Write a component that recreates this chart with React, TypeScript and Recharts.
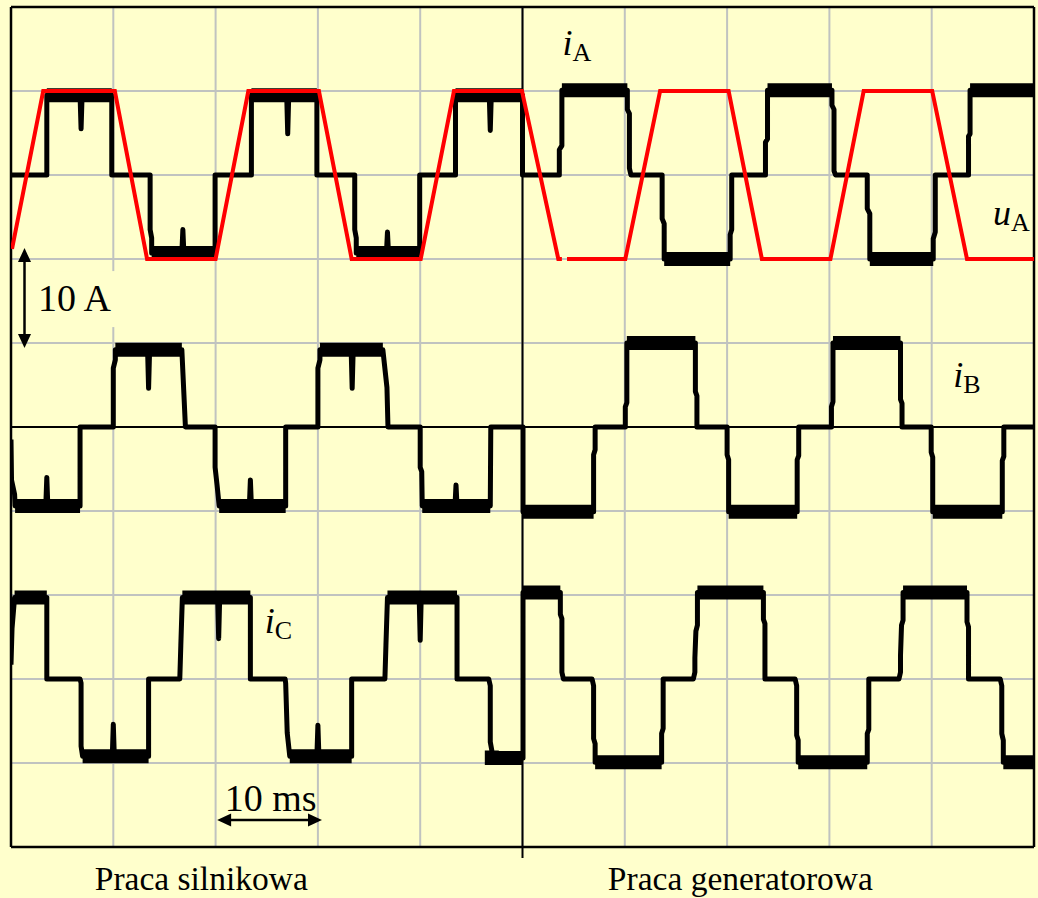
import React from 'react';
import { LineChart, Line, XAxis, YAxis, CartesianGrid, ReferenceLine, ReferenceDot } from 'recharts';

type P = [number, number | null];

// time axis in ms (10 ms / div), vertical in A (10 A / div)
const xTicks = [0, 10, 20, 30, 40, 50, 60, 70, 80, 90, 100];
const yTicks = [-50, -40, -30, -20, -10, 0, 10, 20, 30, 40, 50];

const offsetA = 30;
const offsetB = 0;
const offsetC = -30;

const iA: P[] = [
  [0, 0], [3.5, 0], [3.5, 9.5], [6.75, 9.5], [6.85, 5.5], [6.95, 9.5], [9.85, 9.5], [9.85, 0],
  [13.6, 0], [13.6, -6.5], [13.75, -7.5], [13.75, -9.3], [16.7, -9.3], [16.8, -6.5], [16.9, -9.3], [19.95, -9.3], [19.95, 0],
  [23.5, 0], [23.5, 9.5], [26.95, 9.5], [27.05, 4.9], [27.15, 9.5], [29.9, 9.5], [29.9, 0],
  [33.6, 0], [33.6, -6.5], [33.75, -7.5], [33.75, -9.3], [36.7, -9.3], [36.8, -6.8], [36.9, -9.3], [39.95, -9.3], [39.95, 0],
  [43.45, 0], [43.45, 9.5], [46.75, 9.5], [46.85, 5.3], [46.95, 9.5], [50.0, 9.5], [50.0, 0],
  [53.6, 0], [53.6, 3.0], [53.85, 3.5], [53.85, 10.1], [60.25, 10.1], [60.25, 7.8], [60.45, 7.3], [60.45, 0.8], [60.6, 0],
  [63.65, 0], [63.65, -5.2], [63.85, -5.8], [63.85, -10.0], [70.3, -10.0], [70.3, -7.1], [70.45, -6.5], [70.45, 0],
  [73.75, 0], [73.75, 3.9], [73.95, 4.3], [73.95, 10.1], [80.25, 10.1], [80.25, 8.3], [80.45, 7.8], [80.45, 0.5], [80.6, 0],
  [83.7, 0], [83.7, -4.0], [83.95, -4.6], [83.95, -10.0], [90.15, -10.0], [90.15, -7.6], [90.35, -6.8], [90.35, 0],
  [93.6, 0], [93.6, 4.6], [93.75, 4.9], [93.75, 10.1], [100, 10.1],
];

const iB: P[] = [
  [0, -1.5], [0.05, -6.3], [0.35, -8.0], [0.4, -9.4], [3.4, -9.4], [3.5, -6.0], [3.6, -9.4], [6.75, -9.4], [6.75, 0],
  [10.0, 0], [10.0, 7.0], [10.2, 8.0], [10.2, 9.2], [13.35, 9.2], [13.45, 4.6], [13.55, 9.2], [16.7, 9.2], [17.05, 0],
  [19.95, 0], [19.95, -4.8], [20.15, -7.0], [20.35, -9.4], [23.3, -9.4], [23.4, -6.3], [23.5, -9.4], [26.85, -9.4], [26.85, 0],
  [30.0, 0], [30.0, 7.0], [30.2, 8.0], [30.2, 9.2], [33.25, 9.2], [33.35, 4.6], [33.45, 9.2], [36.35, 9.2], [36.75, 4.7], [36.85, 0],
  [40.0, 0], [40.0, -4.8], [40.15, -5.3], [40.2, -9.4], [43.4, -9.4], [43.5, -6.9], [43.6, -9.4], [46.85, -9.4], [46.9, 0],
  [50.05, 0], [50.05, -10.1], [56.95, -10.1], [56.95, -3.3], [57.1, -2.7], [57.1, 0],
  [60.05, 0], [60.05, 2.4], [60.2, 2.9], [60.2, 10.0], [66.9, 10.0], [66.9, 4.2], [67.05, 3.7], [67.05, 0],
  [70.0, 0], [70.0, -3.3], [70.15, -3.9], [70.15, -10.1], [76.85, -10.1], [76.85, -3.9], [77.0, -3.4], [77.0, 0],
  [80.2, 0], [80.2, 2.4], [80.35, 3.0], [80.35, 10.0], [86.95, 10.0], [86.95, 3.3], [87.1, 2.8], [87.1, 0],
  [89.95, 0], [89.95, -3.0], [90.1, -3.6], [90.1, -10.1], [96.9, -10.1], [96.9, -4.0], [97.05, -3.5], [97.05, 0],
  [100, 0],
];

const iC: P[] = [
  [0, 1.7], [0.1, 6.0], [0.35, 9.7], [3.5, 9.7], [3.5, 0],
  [6.75, 0], [6.85, -0.5], [6.85, -8.0], [7.0, -9.2], [9.9, -9.2], [10.0, -5.4], [10.1, -9.2], [13.45, -9.2], [13.45, 0],
  [16.5, 0], [16.6, 4.0], [16.75, 9.7], [20.2, 9.7], [20.3, 4.8], [20.4, 9.7], [23.4, 9.7], [23.4, 0],
  [26.8, 0], [26.85, -0.5], [27.0, -6.4], [27.25, -9.2], [29.9, -9.2], [30.0, -5.5], [30.1, -9.2], [33.3, -9.2], [33.3, 0],
  [36.55, 0], [36.65, 4.0], [36.8, 9.7], [39.9, 9.7], [40.0, 4.6], [40.1, 9.7], [43.6, 9.7], [43.6, 0],
  [46.7, 0], [46.85, -0.8], [46.85, -7.5], [47.0, -8.5], [47.0, -9.4], [50.05, -9.4], [50.05, 10.3],
  [53.7, 10.3], [53.7, 7.7], [53.85, 7.2], [53.85, 0.8], [54.0, 0],
  [56.8, 0], [56.95, -0.8], [56.95, -7.1], [57.1, -7.7], [57.1, -9.9], [63.6, -9.9], [63.6, -6.5], [63.75, -5.9], [63.75, 0],
  [66.7, 0], [66.85, 0.8], [66.85, 2.5], [66.95, 5.7], [67.1, 6.4], [67.1, 10.3], [73.55, 10.3], [73.55, 7.1], [73.7, 6.6], [73.7, 0],
  [76.65, 0], [76.8, -0.8], [76.8, -6.7], [76.95, -7.3], [76.95, -9.9], [83.7, -9.9], [83.7, -6.5], [83.85, -6.0], [83.85, 0],
  [86.8, 0], [86.95, 0.8], [86.95, 2.8], [87.05, 6.4], [87.2, 7.0], [87.2, 10.3], [93.45, 10.3], [93.45, 6.8], [93.6, 6.2], [93.6, 0],
  [96.7, 0], [96.85, -0.8], [96.85, -6.5], [97.0, -7.3], [97.0, -9.9], [100, -9.9],
];

const uA: P[] = [
  [0.1, -8.8], [3.15, 10], [10.15, 10], [13.3, -10], [20.0, -10], [23.2, 10], [30.1, 10], [33.3, -10],
  [40.05, -10], [43.3, 10], [49.95, 10], [53.5, -10], [53.85, -10], [54.1, null], [54.35, -10],
  [60.05, -10], [63.45, 10], [70.15, 10], [73.4, -10], [80.1, -10], [83.35, 10], [90.05, 10],
  [93.45, -10], [100, -10],
];

const PLATEAU = 8.5;

const toRows = (pts: P[], off: number) =>
  pts.map(([t, v]) => ({ t, v: v === null ? null : v + off }));

// thick "noisy" band drawn over the plateau parts of a trace
const bandRows = (pts: P[], off: number) => {
  const out: { t: number; v: number | null }[] = [];
  let lastSign = 0;
  for (let i = 0; i < pts.length; i++) {
    const [t, v] = pts[i];
    if (v !== null && Math.abs(v) >= PLATEAU) {
      const s = Math.sign(v);
      if (lastSign !== 0 && s !== lastSign) out.push({ t, v: null });
      out.push({ t, v: v + off });
      lastSign = s;
      continue;
    }
    const prev = i > 0 ? pts[i - 1][1] : null;
    const next = i < pts.length - 1 ? pts[i + 1][1] : null;
    const spike =
      prev !== null && next !== null && Math.abs(prev) >= PLATEAU && Math.abs(next) >= PLATEAU &&
      Math.sign(prev) === Math.sign(next);
    if (!spike) {
      out.push({ t, v: null });
      lastSign = 0;
    }
  }
  return out;
};

const FONT = "'Liberation Serif', 'Times New Roman', 'DejaVu Serif', serif";

const head = (dir: 'up' | 'down' | 'left' | 'right') => (p: any) => {
  const { cx, cy } = p;
  const L = 14;
  const W = 6.5;
  let pts = '';
  if (dir === 'up') pts = `${cx},${cy} ${cx - W},${cy + L} ${cx + W},${cy + L}`;
  if (dir === 'down') pts = `${cx},${cy} ${cx - W},${cy - L} ${cx + W},${cy - L}`;
  if (dir === 'left') pts = `${cx},${cy} ${cx + L},${cy - W} ${cx + L},${cy + W}`;
  if (dir === 'right') pts = `${cx},${cy} ${cx - L},${cy - W} ${cx - L},${cy + W}`;
  return <polygon points={pts} fill="#000" />;
};

const subLabel = (main: string, sub: string) => (p: any) => (
  <text x={p.cx} y={p.cy} style={{ fontFamily: FONT, fontSize: 36 }} fill="#000">
    <tspan style={{ fontStyle: 'italic' }}>{main}</tspan>
    <tspan style={{ fontSize: 26 }} dy={6}>{sub}</tspan>
  </text>
);

const plainLabel = (txt: string, size: number, anchor: 'start' | 'middle', bg?: boolean) => (p: any) => (
  <g>
    {bg ? <rect x={p.cx - 6} y={p.cy - 40} width={88} height={56} fill="#FFFFCC" /> : null}
    <text x={p.cx} y={p.cy} style={{ fontFamily: FONT, fontSize: size }} fill="#000" textAnchor={anchor}>
      {txt}
    </text>
  </g>
);

export default function App() {
  const rowsA = toRows(iA, offsetA);
  const rowsB = toRows(iB, offsetB);
  const rowsC = toRows(iC, offsetC);
  const rowsU = toRows(uA, offsetA);
  const bandA = bandRows(iA, offsetA);
  const bandB = bandRows(iB, offsetB);
  const bandC = bandRows(iC, offsetC);

  const trace = { stroke: '#000', strokeWidth: 5, dot: false, activeDot: false, isAnimationActive: false, type: 'linear' as const, strokeLinejoin: 'round' as const };
  const band = { stroke: '#000', strokeWidth: 14, dot: false, activeDot: false, isAnimationActive: false, type: 'linear' as const, strokeLinecap: 'butt' as const, connectNulls: false };

  return (
    <div style={{ position: 'absolute', left: 0, top: 0, width: 1038, height: 898, background: '#FFFFCC', overflow: 'hidden' }}>
      <LineChart width={1038} height={898} margin={{ top: 7, right: 4, bottom: 51, left: 11 }}>
        <XAxis dataKey="t" type="number" domain={[0, 100]} ticks={xTicks} hide allowDataOverflow />
        <YAxis type="number" domain={[-50, 50]} ticks={yTicks} hide allowDataOverflow />
        <CartesianGrid stroke="#C0C3C0" strokeWidth={2} verticalValues={xTicks} horizontalValues={yTicks} />
        <ReferenceLine y={0} stroke="#000" strokeWidth={2} />
        <ReferenceLine segment={[{ x: 50, y: 50 }, { x: 50, y: -51.3 }]} stroke="#000" strokeWidth={2} ifOverflow="visible" />
        <ReferenceLine x={0} stroke="#000" strokeWidth={2.5} />
        <ReferenceLine x={100} stroke="#000" strokeWidth={2.5} />
        <ReferenceLine y={50} stroke="#000" strokeWidth={2.5} />
        <ReferenceLine y={-50} stroke="#000" strokeWidth={2.5} />

        <Line data={rowsA} dataKey="v" {...trace} />
        <Line data={rowsB} dataKey="v" {...trace} />
        <Line data={rowsC} dataKey="v" {...trace} />
        <Line data={bandA} dataKey="v" {...band} />
        <Line data={bandB} dataKey="v" {...band} />
        <Line data={bandC} dataKey="v" {...band} />
        <Line data={rowsU} dataKey="v" stroke="#FF0000" strokeWidth={4} dot={false} activeDot={false} isAnimationActive={false} type="linear" connectNulls={false} />

        {/* 10 A scale arrow */}
        <ReferenceLine segment={[{ x: 1.32, y: 20 }, { x: 1.32, y: 10.6 }]} stroke="#000" strokeWidth={2.5} ifOverflow="visible" />
        <ReferenceDot x={1.32} y={21.3} r={1} shape={head('up')} ifOverflow="visible" />
        <ReferenceDot x={1.32} y={9.4} r={1} shape={head('down')} ifOverflow="visible" />
        <ReferenceDot x={2.64} y={13.8} r={1} shape={plainLabel('10 A', 38, 'start', true)} ifOverflow="visible" />

        {/* 10 ms scale arrow */}
        <ReferenceLine segment={[{ x: 21.3, y: -46.8 }, { x: 29.3, y: -46.8 }]} stroke="#000" strokeWidth={2.5} ifOverflow="visible" />
        <ReferenceDot x={20.15} y={-46.8} r={1} shape={head('left')} ifOverflow="visible" />
        <ReferenceDot x={30.4} y={-46.8} r={1} shape={head('right')} ifOverflow="visible" />
        <ReferenceDot x={20.9} y={-45.7} r={1} shape={plainLabel('10 ms', 38, 'start')} ifOverflow="visible" />

        {/* series labels */}
        <ReferenceDot x={53.9} y={44.3} r={1} shape={subLabel('i', 'A')} ifOverflow="visible" />
        <ReferenceDot x={96.0} y={24.0} r={1} shape={subLabel('u', 'A')} ifOverflow="visible" />
        <ReferenceDot x={92.1} y={4.8} r={1} shape={subLabel('i', 'B')} ifOverflow="visible" />
        <ReferenceDot x={24.8} y={-24.5} r={1} shape={subLabel('i', 'C')} ifOverflow="visible" />

        {/* section captions */}
        <ReferenceDot x={18.6} y={-55.1} r={1} shape={plainLabel('Praca silnikowa', 33.5, 'middle')} ifOverflow="visible" />
        <ReferenceDot x={71.3} y={-55.1} r={1} shape={plainLabel('Praca generatorowa', 33.5, 'middle')} ifOverflow="visible" />
      </LineChart>
    </div>
  );
}
